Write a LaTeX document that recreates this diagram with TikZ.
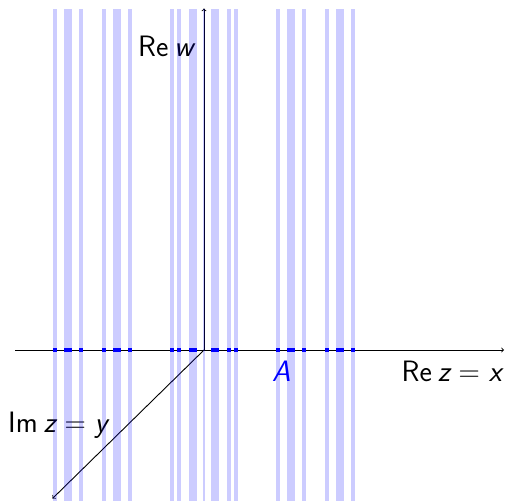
\documentclass[tikz,border=0pt]{standalone}
\begin{document}
\begin{tikzpicture}[x=1bp,y=-1bp,
  axisline/.style={line width=0.9bp,->},
  lbl/.style={font=\fontsize{29.5bp}{34bp}\selectfont\sffamily, inner sep=0pt, anchor=base west},
  stripe/.style={fill=blue, fill opacity=0.2},
  setbar/.style={fill=blue}]
\useasboundingbox (0,0) rectangle (509,501);
% axes
\coordinate (O) at (204,350);
\coordinate (xs) at (15,350);
\coordinate (xe) at (504,350);
\coordinate (ye) at (204,8.5);
\coordinate (de) at (52.5,498.5);
\draw[axisline] (xs) -- (xe);
\draw[axisline] (O) -- (ye);
\draw[axisline] (O) -- (de);
% labels
\node[lbl] (rew) at (138,57) {Re\hspace{0.2em}{\itshape w}};
\node[lbl] (rez) at (401.5,381.7) {Re\hspace{0.2em}{\itshape z}\hspace{0.3em}{\rmfamily =}\hspace{0.3em}{\itshape x}};
\node[lbl] (imz) at (8,432) {Im\hspace{0.2em}{\itshape z}\hspace{0.3em}{\rmfamily =}\hspace{0.3em}{\itshape y}};
\node[lbl, text=blue] (A) at (272,381.7) {\itshape A};
% stripes
\foreach \a/\b in {52.5/56.5, 64/72, 78.7/82.7, 102/106, 113/121, 128/132,
  170/174, 177/181, 189/197, 203.4/204.6, 211/219, 226.7/230.7, 234.3/238.3,
  276/280, 287/295, 302/306, 325/329, 336/344, 351/355}
  {\fill[stripe] (\a,9) rectangle (\b,501);}
% set on the real axis
\foreach \a/\b in {52.5/56.5, 64/72, 78.7/82.7, 102/106, 113/121, 128/132,
  170/174, 177/181, 189/197, 211/219, 226.7/230.7, 234.3/238.3,
  276/280, 287/295, 302/306, 325/329, 336/344, 351/355}
  {\fill[setbar] (\a,348.3) rectangle (\b,351.7);}
\end{tikzpicture}
\end{document}
